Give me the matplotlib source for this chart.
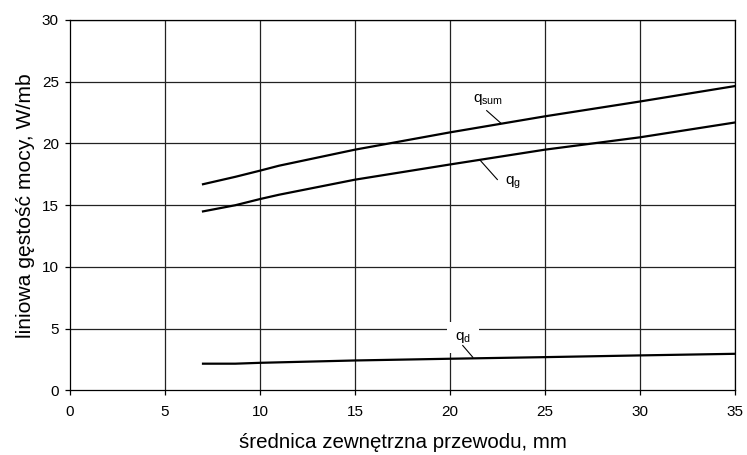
import matplotlib
matplotlib.use("Agg")
import matplotlib.pyplot as plt

plt.rcParams['font.family'] = ['Liberation Sans', 'DejaVu Sans']
plt.rcParams['mathtext.fontset'] = 'custom'
plt.rcParams['mathtext.rm'] = 'Liberation Sans'
plt.rcParams['mathtext.it'] = 'Liberation Sans'

x_sum = [7, 8.7, 10, 11, 15, 20, 25, 30, 35]
q_sum = [16.7, 17.3, 17.8, 18.2, 19.5, 20.9, 22.2, 23.4, 24.65]
x_g = [7, 8.7, 10, 11, 15, 20, 25, 30, 35]
q_g = [14.5, 15.0, 15.5, 15.85, 17.07, 18.3, 19.5, 20.5, 21.7]
x_d = [7, 8.7, 10, 15, 20, 25, 30, 35]
q_d = [2.17, 2.17, 2.24, 2.43, 2.57, 2.7, 2.84, 2.97]

xticks = [0, 5, 10, 15, 20, 25, 30, 35]
yticks = [0, 5, 10, 15, 20, 25, 30]

fig = plt.figure(figsize=(7.47, 4.55), dpi=100)
ax = fig.add_axes([0.0937, 0.1418, 0.8903, 0.8143])

for v in xticks[1:]:
    ax.axvline(v, color='#222222', lw=0.9, zorder=1)
for v in yticks[1:]:
    ax.axhline(v, color='#222222', lw=0.9, zorder=1)

ax.plot(x_sum, q_sum, color='black', lw=1.6, zorder=3)
ax.plot(x_g, q_g, color='black', lw=1.6, zorder=3)
ax.plot(x_d, q_d, color='black', lw=1.6, zorder=3)

ax.set_xlim(0, 35)
ax.set_ylim(0, 30)
ax.set_xticks(xticks)
ax.set_yticks(yticks)
ax.tick_params(direction='out', length=3.5, width=0.9, labelsize=11, colors='black')
ax.tick_params(axis='x', pad=7)
ax.tick_params(axis='y', pad=4.5)
for s in ax.spines.values():
    s.set_color('black')
    s.set_linewidth(0.9)

ax.set_xlabel('średnica zewnętrzna przewodu, mm', fontsize=14.8, labelpad=10)
ax.set_ylabel('liniowa gęstość mocy, W/mb', fontsize=15.2, labelpad=5)

lw_lead = 0.8
# q_sum label and leader
ax.text(21.2, 23.36, r'q$_{\mathrm{sum}}$', fontsize=11, ha='left', va='baseline', zorder=4)
ax.plot([21.93, 22.68], [22.66, 21.64], color='black', lw=lw_lead, zorder=4)
# q_g label and leader
ax.text(22.9, 16.64, r'q$_{\mathrm{g}}$', fontsize=11, ha='left', va='baseline', zorder=4)
ax.plot([21.58, 22.49], [18.65, 17.08], color='black', lw=lw_lead, zorder=4)
# q_d label and leader
ax.text(20.26, 4.09, r'q$_{\mathrm{d}}$', fontsize=11, ha='left', va='baseline', zorder=4,
        bbox=dict(boxstyle='square,pad=0.55', fc='white', ec='none'))
ax.plot([20.67, 21.2], [3.64, 2.69], color='black', lw=lw_lead, zorder=4)

fig.savefig('out.png', dpi=100)
